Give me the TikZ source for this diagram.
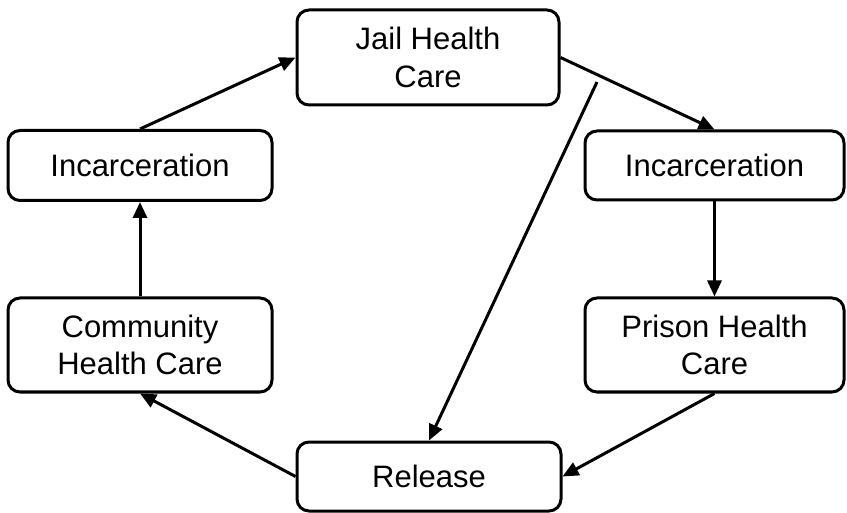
\documentclass[tikz,border=0pt]{standalone}
\usepackage{fontspec}
\setmainfont{Liberation Sans}
\usetikzlibrary{arrows.meta}
\begin{document}
\begin{tikzpicture}[x=1pt,y=-1pt,
  box/.style={draw=black, line width=3pt, rounded corners=12pt, fill=white,
    align=center, font=\fontsize{31}{37.5}\selectfont, inner sep=0pt},
  arr/.style={line width=3pt, -{Triangle[length=16pt,width=14pt]}}]
\useasboundingbox (0,0) rectangle (847,513);
\node[box, minimum width=262pt, minimum height=95pt] (jail) at (428,57.5) {Jail Health\\Care};
\node[box, minimum width=264pt, minimum height=70pt] (linc) at (140,165.5) {Incarceration};
\node[box, minimum width=259pt, minimum height=69pt] (rinc) at (714.5,165.5) {Incarceration};
\node[box, minimum width=264pt, minimum height=94pt] (comm) at (140,345) {Community\\Health Care};
\node[box, minimum width=259pt, minimum height=94pt] (prison) at (714.5,345) {Prison Health\\Care};
\node[box, minimum width=264pt, minimum height=69pt] (release) at (429,476.5) {Release};
\coordinate (dstart) at (597,82);
\draw[arr] (linc.north) -- (jail.west);
\draw[arr] (jail.east) -- (rinc.north);
\draw[arr] (rinc.south) -- (prison.north);
\draw[arr] (prison.south) -- (release.east);
\draw[arr] (release.west) -- (comm.south);
\draw[arr] (comm.north) -- (linc.south);
\draw[arr] (dstart) -- (release.north);
\end{tikzpicture}
\end{document}
